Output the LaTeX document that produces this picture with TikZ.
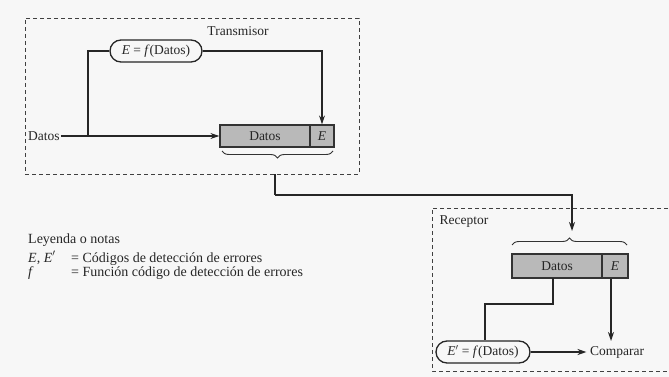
\documentclass[tikz,border=0pt]{standalone}
\usepackage{fontspec}
\setmainfont{Liberation Serif}
\usetikzlibrary{arrows.meta,shapes.misc,decorations.pathreplacing}
\begin{document}
\begin{tikzpicture}[x=1pt,y=-1pt,
  every node/.style={font=\fontsize{13.5}{15}\selectfont, text=black!85},
  ln/.style={draw=black!85, line width=1.3pt},
  arr/.style={ln, -{Stealth[length=9pt,width=6pt]}},
  dbox/.style={draw=black!75, line width=0.9pt, dash pattern=on 4pt off 3pt},
  cell/.style={draw=black!80, line width=1.2pt, fill=gray!55, inner sep=0pt, minimum height=22},
  fnode/.style={draw=black!85, line width=1.3pt, rounded rectangle, inner sep=0pt, minimum height=22},
  brc/.style={draw=black!80, line width=0.9pt, decorate, decoration={brace, amplitude=7pt}},
  lgd/.style={anchor=base west, inner sep=0pt, font=\fontsize{14}{15}\selectfont}]
\useasboundingbox (0,0) rectangle (669,377);
\fill[gray!6] (0,0) rectangle (669,377);

% Transmitter
\node[dbox, minimum width=334, minimum height=156, inner sep=0pt] (tx) at (192,96) {};
\node (txl) at (238,31) {Transmisor};
\node[fnode, minimum width=92] (efn) at (156,51) {\textit{E} = \textit{f}(Datos)};
\node[anchor=west, inner sep=1pt] (din) at (27,136) {Datos};
\node[cell, minimum width=90] (td) at (265,136) {Datos};
\node[cell, minimum width=24] (te) at (322,136) {\textit{E}};
\coordinate (br) at (88,136);
\draw[ln] (din.east) -- (br);
\draw[arr] (br) -- (td.west);
\draw[ln] (br) |- (efn.west);
\draw[arr] (efn.east) -| (te.north);
\draw[brc] (333,151) -- (222,151);
\coordinate (tdown) at (275,174);
\coordinate (tturn) at (275,195);

% Receiver
\draw[dbox] (675,208) -| (432,371) -- (675,371);
\node[anchor=west] (rxl) at (436,222) {Receptor};
\node[cell, minimum width=90, minimum height=24] (rd) at (557,266) {Datos};
\node[cell, minimum width=26, minimum height=24] (re) at (615,266) {\textit{E}};
\draw[brc] (512,245) -- (627,245);
\coordinate (rtop) at (572,231);
\draw[ln] (tdown) -- (tturn);
\draw[arr] (tturn) -| (rtop);
\node[fnode, minimum width=94] (ep) at (483,352) {\textit{E}$'$ = \textit{f}(Datos)};
\node (cmp) at (617,352) {Comparar};
\coordinate (rdb) at (553,278);
\draw[ln] (rdb) |- (485,304) -- (ep.north -| 485,304);
\draw[arr] (re.south -| 611,0) -- (611,341);
\draw[arr] (ep.east) -- (ep.east -| cmp.west);

% Legend
\node[lgd] (lg) at (28,243) {Leyenda o notas};
\node[lgd] (l1a) at (28,262) {\textit{E}, \textit{E}$'$};
\node[lgd] (l1b) at (71,262) {= Códigos de detección de errores};
\node[lgd] (l2a) at (28,276) {\textit{f}};
\node[lgd] (l2b) at (71,276) {= Función código de detección de errores};
\end{tikzpicture}
\end{document}
